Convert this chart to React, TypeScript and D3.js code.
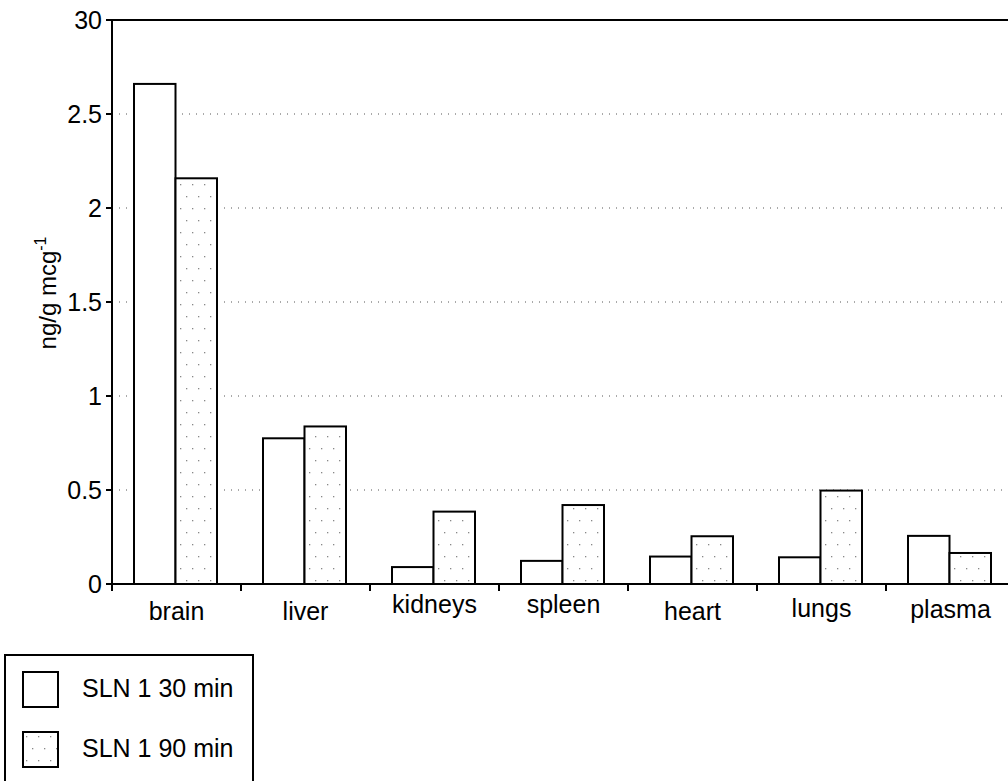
import React from "react";
import * as d3 from "d3";

const categories = ["brain", "liver", "kidneys", "spleen", "heart", "lungs", "plasma"];
const series = ["SLN 1 30 min", "SLN 1 90 min"];
const values30 = [2.66, 0.775, 0.09, 0.123, 0.146, 0.142, 0.256];
const values90 = [2.158, 0.838, 0.385, 0.42, 0.254, 0.497, 0.165];
const yTicks = [0, 0.5, 1, 1.5, 2, 2.5, 3];
const yTickLabels = ["0", "0.5", "1", "1.5", "2", "2.5", "30"];

// per-label baseline tweaks (px) for the category names
const labelShift = [0, 0, -7, -7, 0, -3, -2];

const W = 1008;
const H = 781;
const FONT = "'Liberation Sans', Arial, Helvetica, sans-serif";

export default function App() {
  const x0 = d3.scaleBand<string>().domain(categories).range([112, 112 + 129 * categories.length]).padding(0);
  const x1 = d3.scaleBand<string>().domain(series).range([22, 105]).padding(0);
  const y = d3.scaleLinear().domain([0, 3]).range([584, 20]);
  const bandW = x0.bandwidth();

  const rows = categories.map((c, i) => ({ c, v: [values30[i], values90[i]] }));

  return (
    <svg width={W} height={H} style={{ position: "absolute", left: 0, top: 0, background: "#fff" }}>
      <defs>
        <pattern id="dots" width={12} height={24} patternUnits="userSpaceOnUse">
          <rect width={12} height={24} fill="#fff" />
          <rect x={2} y={4} width={1.3} height={1.3} fill="#888" />
          <rect x={8} y={16} width={1.3} height={1.3} fill="#888" />
        </pattern>
      </defs>
      <rect width={W} height={H} fill="#fff" />

      {/* dotted grid */}
      {yTicks.filter((t) => t > 0 && t < 3).map((t) => (
        <line key={t} x1={112} x2={W} y1={y(t)} y2={y(t)} stroke="#555" strokeWidth={1} strokeDasharray="1 6" />
      ))}

      {/* bars */}
      {rows.map((r) => (
        <g key={r.c} transform={`translate(${x0(r.c)},0)`}>
          {series.map((s, j) => (
            <rect
              key={s}
              x={x1(s)!}
              y={y(r.v[j])}
              width={x1.bandwidth()}
              height={y(0) - y(r.v[j])}
              fill={j === 0 ? "#fff" : "url(#dots)"}
              stroke="#000"
              strokeWidth={2}
            />
          ))}
        </g>
      ))}

      {/* axes */}
      <line x1={112} x2={112} y1={19} y2={591} stroke="#000" strokeWidth={2} />
      <line x1={111} x2={W} y1={20} y2={20} stroke="#000" strokeWidth={2} />
      <line x1={111} x2={W} y1={584} y2={584} stroke="#000" strokeWidth={2} />
      {yTicks.map((t, i) => (
        <g key={t}>
          <line x1={106} x2={112} y1={y(t)} y2={y(t)} stroke="#000" strokeWidth={2} />
          <text x={102} y={y(t) + 9} textAnchor="end" fontFamily={FONT} fontSize={25}>
            {yTickLabels[i]}
          </text>
        </g>
      ))}
      {categories.slice(1).map((c) => (
        <line key={c} x1={x0(c)!} x2={x0(c)!} y1={584} y2={591} stroke="#000" strokeWidth={2} />
      ))}
      {categories.map((c, i) => (
        <text key={c} x={x0(c)! + bandW / 2} y={620 + labelShift[i]} textAnchor="middle" fontFamily={FONT} fontSize={25}>
          {c}
        </text>
      ))}

      {/* y axis title */}
      <text transform="translate(56,293) rotate(-90)" textAnchor="middle" fontFamily={FONT} fontSize={24}>
        ng/g mcg<tspan dy={-10} fontSize={16}>-1</tspan>
      </text>

      {/* legend */}
      <rect x={5} y={655} width={248} height={140} fill="#fff" stroke="#000" strokeWidth={2} />
      {series.map((s, j) => (
        <g key={s} transform={`translate(0,${672 + j * 60})`}>
          <rect x={23} y={0} width={35} height={35} fill={j === 0 ? "#fff" : "url(#dots)"} stroke="#000" strokeWidth={2} />
          <text x={82} y={25} fontFamily={FONT} fontSize={25}>
            {s}
          </text>
        </g>
      ))}
    </svg>
  );
}
